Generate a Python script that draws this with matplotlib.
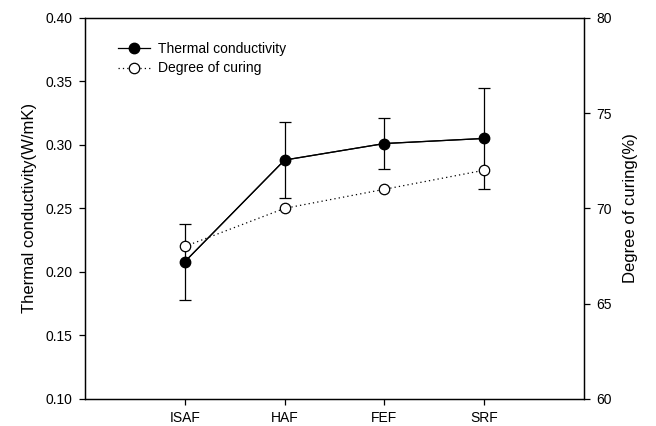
import matplotlib
matplotlib.use('Agg')
import matplotlib.pyplot as plt

plt.rcParams['font.family'] = ['Liberation Sans', 'DejaVu Sans']

# data
categories = ['ISAF', 'HAF', 'FEF', 'SRF']
conductivity = [0.208, 0.288, 0.301, 0.305]
conductivity_err = [0.030, 0.030, 0.020, 0.040]
curing = [68, 70, 71, 72]

x_pos = list(range(1, len(categories) + 1))

fig = plt.figure(figsize=(6.56, 4.26), dpi=100)
ax1 = fig.add_axes([85 / 656, 1 - 399 / 426, (584 - 85) / 656, (399 - 17.7) / 426])
ax2 = ax1.twinx()

ax1.errorbar(x_pos, conductivity, yerr=conductivity_err, color='black', ecolor='black',
             elinewidth=0.9, capsize=4, capthick=0.9, linewidth=0.9, zorder=3)
h1, = ax1.plot(x_pos, conductivity, color='black', linewidth=0.9, marker='o',
               markersize=7.5, markerfacecolor='black', markeredgecolor='black',
               label='Thermal conductivity', zorder=4)
h2, = ax2.plot(x_pos, curing, color='black', linewidth=0.9, linestyle=(0, (1, 2.5)),
               marker='o', markersize=7.5, markerfacecolor='white', markeredgecolor='black',
               markeredgewidth=0.9, label='Degree of curing', zorder=4)

ax1.set_xlim(0, 5)
ax1.set_ylim(0.10, 0.40)
ax1.set_yticks([0.10, 0.15, 0.20, 0.25, 0.30, 0.35, 0.40])
ax1.set_yticklabels([f'{v:.2f}' for v in [0.10, 0.15, 0.20, 0.25, 0.30, 0.35, 0.40]])
ax1.set_xticks(x_pos)
ax1.set_xticklabels(categories)
ax2.set_ylim(60, 80)
ax2.set_yticks([60, 65, 70, 75, 80])

ax1.set_ylabel('Thermal conductivity(W/mK)', fontsize=12, labelpad=6)
ax2.set_ylabel('Degree of curing(%)', fontsize=12, labelpad=8)

for ax in (ax1, ax2):
    ax.tick_params(direction='out', length=4, width=0.9, labelsize=10, pad=5, colors='black')
    for sp in ax.spines.values():
        sp.set_linewidth(0.9)

ax1.legend([h1, h2], ['Thermal conductivity', 'Degree of curing'], loc='upper left',
           bbox_to_anchor=(0.055, 0.95), frameon=False, fontsize=10, handlelength=2.3,
           handletextpad=0.6, labelspacing=0.37, borderaxespad=0)

fig.patch.set_facecolor('white')
plt.savefig('out.png', dpi=100, facecolor='white')
plt.close()
